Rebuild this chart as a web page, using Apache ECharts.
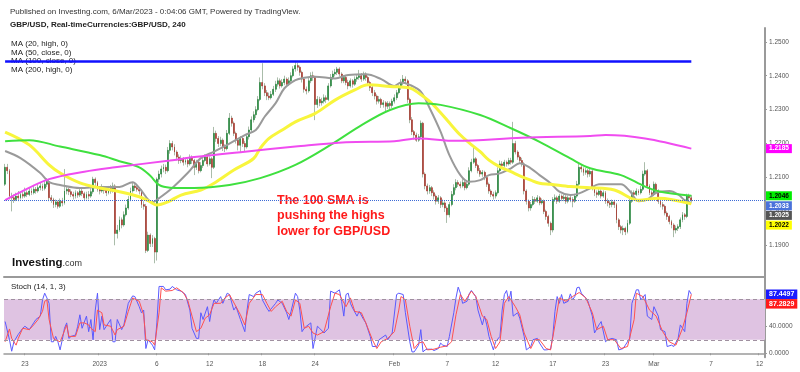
<!DOCTYPE html>
<html><head><meta charset="utf-8">
<script src="https://cdn.jsdelivr.net/npm/echarts@6/dist/echarts.min.js"></script>
<style>html,body{margin:0;padding:0;background:#fff}#c{width:800px;height:372px}</style>
</head><body><div id="c"></div>
<script>
// ---- GBP/USD 4h candles (values in pips, price = value / 10000) ----
const opens = [
12080,12130,12120,12045,12040,12035,12045,12040,12050,12045,
12055,12050,12060,12055,12065,12060,12070,12075,12068,12080,
12088,12040,12035,12020,12028,12015,12030,12025,12060,12065,
12058,12050,12045,12055,12048,12060,12052,12040,12050,12045,
12058,12095,12085,12065,12060,12070,12062,12055,12068,12060,
12075,11935,11945,11975,11960,11990,12010,12035,12060,12075,
12070,12065,12060,12020,12015,11885,11930,11905,11920,11880,
12095,12110,12125,12130,12120,12180,12200,12190,12175,12160,
12150,12155,12145,12150,12140,12160,12150,12130,12145,12120,
12135,12150,12160,12140,12155,12130,12230,12215,12200,12210,
12190,12185,12230,12275,12260,12230,12210,12195,12215,12200,
12190,12220,12240,12270,12285,12300,12330,12380,12370,12350,
12340,12335,12345,12360,12375,12385,12370,12380,12390,12375,
12385,12400,12420,12430,12425,12410,12390,12360,12355,12385,
12400,12395,12315,12330,12320,12325,12335,12330,12370,12395,
12405,12410,12420,12405,12385,12395,12380,12370,12385,12375,
12390,12395,12400,12390,12405,12395,12380,12365,12350,12340,
12325,12330,12315,12320,12310,12318,12312,12325,12335,12350,
12365,12380,12390,12385,12330,12270,12235,12225,12210,12220,
12260,12110,12075,12060,12070,12055,12045,12030,12040,12020,
12025,12010,11990,12020,12050,12070,12085,12080,12075,12085,
12070,12080,12120,12145,12155,12135,12120,12110,12115,12100,
12080,12060,12050,12045,12055,12120,12140,12135,12145,12140,
12150,12145,12200,12175,12160,12150,12140,12060,12030,12010,
12020,12035,12030,12040,12025,12030,12000,11985,11965,11945,
12035,12040,12030,12045,12038,12042,12030,12040,12035,12030,
12045,12080,12130,12125,12115,12120,12110,12118,12070,12055,
12050,12060,12045,12055,12030,12025,12020,12028,12020,11975,
11955,11945,11950,11940,11965,12030,12055,12050,12060,12055,
12065,12110,12120,12075,12055,12050,12080,12060,12030,12020,
12015,11995,11985,11970,11960,11945,11950,11955,11975,11990,
11985,12045,12040];
const closes = [
12130,12120,12045,12040,12035,12045,12040,12050,12045,12055,
12050,12060,12055,12065,12060,12070,12075,12068,12080,12088,
12040,12035,12020,12028,12015,12030,12025,12060,12065,12058,
12050,12045,12055,12048,12060,12052,12040,12050,12045,12058,
12095,12085,12065,12060,12070,12062,12055,12068,12060,12075,
11935,11945,11975,11960,11990,12010,12035,12060,12075,12070,
12065,12060,12020,12015,11885,11930,11905,11920,11880,12095,
12110,12125,12130,12120,12180,12200,12190,12175,12160,12150,
12155,12145,12150,12140,12160,12150,12130,12145,12120,12135,
12150,12160,12140,12155,12130,12230,12215,12200,12210,12190,
12185,12230,12275,12260,12230,12210,12195,12215,12200,12190,
12220,12240,12270,12285,12300,12330,12380,12370,12350,12340,
12335,12345,12360,12375,12385,12370,12380,12390,12375,12385,
12400,12420,12430,12425,12410,12390,12360,12355,12385,12400,
12395,12315,12330,12320,12325,12335,12330,12370,12395,12405,
12410,12420,12405,12385,12395,12380,12370,12385,12375,12390,
12395,12400,12390,12405,12395,12380,12365,12350,12340,12325,
12330,12315,12320,12310,12318,12312,12325,12335,12350,12365,
12380,12390,12385,12330,12270,12235,12225,12210,12220,12260,
12110,12075,12060,12070,12055,12045,12030,12040,12020,12025,
12010,11990,12020,12050,12070,12085,12080,12075,12085,12070,
12080,12120,12145,12155,12135,12120,12110,12115,12100,12080,
12060,12050,12045,12055,12120,12140,12135,12145,12140,12150,
12145,12200,12175,12160,12150,12140,12060,12030,12010,12020,
12035,12030,12040,12025,12030,12000,11985,11965,11945,12035,
12040,12030,12045,12038,12042,12030,12040,12035,12030,12045,
12080,12130,12125,12115,12120,12110,12118,12070,12055,12050,
12060,12045,12055,12030,12025,12020,12028,12020,11975,11955,
11945,11950,11940,11965,12030,12055,12050,12060,12055,12065,
12110,12120,12075,12055,12050,12080,12060,12030,12020,12015,
11995,11985,11970,11960,11945,11950,11955,11975,11990,11985,
12045,12040,12033];
const highs = [
12140,12140,12125,12055,12050,12055,12060,12058,12062,12070,
12062,12070,12068,12078,12072,12080,12085,12082,12090,12098,
12092,12048,12040,12035,12032,12038,12040,12125,12075,12070,
12065,12058,12062,12060,12070,12068,12058,12058,12060,12068,
12102,12100,12090,12072,12080,12075,12068,12075,12078,12085,
12080,11960,11985,11982,12000,12020,12045,12070,12085,12082,
12080,12072,12065,12030,12022,11940,11935,11930,11925,12100,
12120,12135,12140,12138,12190,12210,12208,12198,12180,12168,
12165,12160,12158,12155,12168,12165,12155,12152,12150,12145,
12160,12168,12165,12162,12160,12249,12238,12222,12220,12215,
12198,12240,12290,12282,12265,12235,12215,12222,12220,12208,
12228,12250,12280,12295,12310,12340,12395,12437,12378,12358,
12350,12355,12370,12385,12395,12392,12390,12400,12395,12395,
12410,12428,12440,12438,12430,12415,12395,12368,12395,12410,
12412,12400,12340,12338,12335,12345,12342,12378,12405,12415,
12420,12426,12425,12410,12402,12400,12388,12392,12390,12398,
12405,12417,12408,12412,12410,12400,12385,12372,12358,12345,
12340,12335,12328,12325,12325,12324,12332,12345,12358,12372,
12390,12402,12398,12390,12335,12278,12240,12232,12228,12268,
12264,12115,12082,12078,12075,12062,12050,12048,12045,12035,
12030,12015,12028,12060,12080,12095,12092,12088,12095,12090,
12088,12130,12155,12189,12160,12140,12128,12122,12120,12105,
12085,12065,12058,12062,12130,12150,12148,12152,12150,12158,
12158,12264,12208,12180,12165,12158,12145,12065,12035,12028,
12045,12042,12048,12045,12038,12035,12005,11990,11970,12042,
12050,12046,12052,12050,12050,12048,12047,12046,12042,12052,
12090,12140,12138,12130,12128,12125,12125,12122,12075,12062,
12068,12065,12062,12060,12038,12032,12035,12034,12025,11980,
11960,11958,11955,11975,12040,12062,12062,12068,12065,12075,
12120,12145,12125,12080,12062,12088,12085,12065,12036,12028,
12020,12000,11990,11975,11965,11958,11962,11982,11998,11995,
12052,12052,12048];
const lows = [
12075,12110,12035,12000,12025,12030,12030,12035,12038,12040,
12042,12045,12048,12050,12052,12055,12062,12060,12062,12072,
12030,12025,12010,12012,12008,12010,12015,12020,12050,12048,
12042,12035,12038,12040,12042,12045,12032,12035,12035,12040,
12052,12075,12058,12050,12055,12052,12045,12050,12052,12055,
11900,11920,11940,11950,11955,11985,12005,12030,12055,12060,
12058,12050,12010,12005,11877,11880,11895,11895,11847,11855,
12085,12100,12115,12110,12115,12170,12180,12165,12150,12140,
12142,12135,12138,12130,12135,12140,12107,12122,12112,12115,
12128,12145,12132,12135,12098,12125,12205,12190,12192,12178,
12175,12180,12225,12250,12222,12200,12180,12175,12190,12178,
12185,12212,12235,12262,12275,12295,12325,12360,12340,12328,
12328,12330,12340,12352,12368,12362,12365,12372,12368,12370,
12380,12395,12412,12415,12400,12380,12350,12345,12350,12378,
12385,12269,12305,12310,12312,12318,12320,12325,12365,12388,
12398,12402,12398,12378,12378,12372,12360,12365,12365,12370,
12382,12388,12382,12385,12385,12372,12355,12340,12330,12315,
12318,12305,12306,12290,12302,12300,12305,12318,12328,12345,
12358,12372,12375,12320,12260,12225,12212,12205,12205,12215,
12100,12065,12050,12052,12045,12035,12020,12022,12010,12012,
11998,11966,11982,12015,12045,12062,12072,12068,12070,12062,
12065,12075,12115,12140,12128,12112,12102,12102,12092,12072,
12052,12042,12035,12038,12050,12115,12128,12130,12132,12135,
12138,12140,12168,12152,12142,12132,12050,12020,12000,12002,
12015,12022,12025,12018,12020,11992,11975,11955,11930,11938,
12028,12022,12025,12030,12030,12022,12024,12027,12012,12025,
12040,12075,12115,12105,12108,12100,12102,12062,12045,12040,
12045,12038,12040,12022,12015,12010,12012,12010,11965,11945,
11935,11930,11930,11935,11960,12025,12042,12045,12048,12050,
12060,12105,12068,12048,12042,12045,12052,12022,12012,12005,
11988,11975,11962,11950,11924,11935,11942,11948,11968,11975,
11980,12030,12028];

// ---- Moving averages: [bar index, pips] ----
const ma20High = [[0,12178],[7,12157],[16,12113],[20,12086],[25,12078],[34,12069],[43,12072],[52,12072],[58,12086],[61,12069],[67,12027],[70,12039],[76,12069],[83,12113],[89,12157],[95,12176],[101,12196],[109,12225],[114,12240],[118,12279],[123,12319],[127,12363],[132,12387],[136,12394],[141,12397],[150,12392],[156,12402],[164,12404],[171,12390],[177,12370],[180,12380],[184,12373],[189,12353],[193,12305],[198,12235],[202,12166],[207,12107],[211,12087],[216,12092],[220,12107],[225,12112],[230,12127],[234,12142],[239,12127],[243,12107],[248,12083],[252,12058],[257,12048],[261,12053],[266,12068],[270,12080],[280,12080],[284,12060],[288,12030],[292,12035],[296,12055],[302,12060],[306,12050],[309,12033],[312,12025]];
const ma50Close = [[0,12234],[11,12196],[20,12137],[25,12113],[34,12084],[43,12069],[52,12058],[61,12043],[66,12028],[69,12019],[74,12028],[80,12048],[89,12063],[95,12083],[104,12122],[113,12156],[116,12186],[120,12215],[126,12240],[132,12264],[141,12289],[150,12328],[159,12358],[165,12373],[175,12368],[184,12364],[188,12349],[193,12324],[198,12291],[202,12261],[207,12225],[211,12202],[216,12176],[220,12151],[225,12131],[230,12117],[234,12105],[239,12092],[243,12083],[248,12080],[257,12073],[266,12070],[277,12063],[288,12033],[297,12039],[312,12022]];
const ma100Close = [[0,12207],[11,12210],[25,12191],[43,12166],[52,12148],[61,12130],[66,12105],[70,12078],[75,12070],[86,12069],[102,12078],[116,12098],[132,12137],[148,12196],[161,12250],[175,12299],[188,12319],[198,12314],[216,12284],[230,12245],[243,12205],[257,12156],[266,12127],[280,12107],[291,12073],[298,12058],[312,12046]];
const ma200High = [[0,12033],[7,12057],[20,12095],[36,12117],[50,12130],[75,12150],[86,12160],[109,12176],[132,12191],[155,12204],[177,12207],[188,12215],[205,12208],[235,12217],[266,12222],[273,12225],[291,12215],[312,12185]];

// ---- Stochastic (14,1,3): [bar index, value] ----
const stochK = [[0,47],[2,20],[3,3],[4,17],[6,28],[8,37],[9,40],[11,35],[13,45],[14,50],[16,55],[17,79],[18,89],[19,82],[20,74],[21,17],[22,17],[23,25],[24,17],[25,5],[26,20],[27,37],[28,45],[29,22],[30,25],[32,27],[33,40],[34,57],[35,37],[37,55],[38,32],[39,50],[40,20],[41,64],[42,89],[43,35],[44,55],[45,35],[48,50],[49,17],[50,17],[51,50],[53,35],[54,42],[56,74],[58,85],[59,84],[61,69],[62,60],[63,64],[64,7],[65,20],[67,12],[68,5],[69,45],[70,99],[72,99],[73,94],[75,95],[76,99],[78,94],[80,92],[82,87],[84,64],[85,37],[87,22],[88,22],[89,60],[90,50],[92,69],[93,47],[94,67],[95,79],[96,74],[98,84],[99,74],[101,89],[102,87],[104,64],[105,69],[107,50],[109,32],[110,64],[111,87],[113,84],[114,89],[116,93],[117,79],[119,67],[120,62],[123,74],[124,79],[126,74],[128,60],[129,50],[130,62],[132,89],[133,84],[134,64],[135,32],[136,37],[137,40],[139,45],[140,7],[142,40],[143,37],[145,30],[147,37],[148,92],[150,89],[152,94],[153,77],[154,55],[155,87],[156,89],[157,74],[158,67],[160,55],[161,62],[163,50],[164,45],[166,25],[167,10],[169,10],[170,20],[173,27],[174,20],[176,30],[178,87],[179,89],[181,87],[182,60],[184,17],[185,2],[186,2],[188,12],[189,35],[190,2],[191,5],[192,6],[194,6],[195,4],[197,7],[198,15],[199,12],[201,10],[202,25],[204,60],[205,82],[206,98],[207,89],[208,74],[210,77],[211,88],[212,93],[214,84],[215,64],[217,42],[218,55],[219,42],[220,25],[222,5],[223,17],[225,25],[226,64],[227,87],[228,93],[229,77],[230,92],[231,55],[233,60],[234,52],[236,25],[237,5],[239,10],[240,20],[242,22],[243,15],[245,5],[246,5],[248,6],[249,25],[250,62],[251,84],[252,74],[253,87],[254,74],[256,77],[257,88],[258,79],[259,84],[260,97],[261,98],[262,89],[264,82],[265,77],[267,55],[268,30],[270,42],[271,47],[273,17],[274,20],[276,22],[278,20],[279,5],[281,7],[282,12],[284,22],[285,74],[287,94],[288,94],[289,79],[291,87],[292,55],[294,50],[295,69],[297,55],[298,35],[300,32],[301,10],[303,12],[304,10],[306,22],[307,42],[309,32],[310,74],[311,93],[312,87.4497]];
const stochD = [[0,17],[2,36],[3,22],[5,12],[6,22],[8,37],[11,35],[13,42],[15,50],[17,62],[18,77],[19,79],[20,50],[22,22],[23,20],[25,17],[26,25],[28,42],[29,25],[32,25],[34,45],[36,45],[38,42],[39,37],[41,32],[42,64],[44,60],[45,42],[48,40],[50,27],[51,35],[54,40],[56,62],[58,82],[61,77],[63,57],[64,20],[67,17],[68,12],[70,60],[71,97],[73,92],[76,93],[78,97],[81,90],[83,79],[85,55],[87,32],[89,37],[91,52],[93,57],[95,74],[98,74],[100,82],[102,87],[105,69],[107,57],[109,42],[111,74],[114,87],[117,87],[119,74],[121,62],[123,69],[126,77],[128,62],[130,55],[132,79],[134,74],[136,37],[138,40],[140,30],[142,27],[145,32],[148,69],[150,89],[152,87],[155,69],[157,82],[159,62],[162,60],[164,45],[167,20],[169,7],[171,17],[174,22],[177,32],[179,64],[180,84],[182,79],[184,40],[186,7],[188,15],[190,17],[192,5],[195,6],[198,9],[201,11],[203,17],[205,57],[207,87],[209,77],[212,92],[214,84],[217,55],[219,50],[221,25],[223,7],[225,17],[227,74],[229,84],[232,69],[234,57],[236,30],[239,7],[241,20],[243,20],[246,7],[248,5],[250,42],[252,82],[255,77],[258,84],[261,90],[264,82],[267,60],[269,35],[272,40],[274,20],[277,20],[280,7],[283,10],[286,50],[287,89],[290,84],[293,64],[296,55],[299,32],[302,17],[305,12],[308,37],[310,60],[312,87.2829]];

// ---- Axis labels / levels ----
const slotCount = 346;
const xLabelIdx = [9,43,69,93,117,141,177,201,223,249,273,295,321,343];
const xLabelTxt = ['23','2023','6','12','18','24','Feb','7','12','17','23','Mar','7','12'];
const priceTicks = [1.19,1.20,1.21,1.22,1.23,1.24,1.25];
const stochTicks = [0,40,80];
const resistanceLevel = [12443];
const lastPrice = [12033];
const maTagValues = [1.2025, 1.2022, 1.2046, 1.2185]; // MA20, MA50, MA100, MA200
const stochTagValues = [87.4497, 87.2829];

// ---- build ----
const cats = [];
for (let i = 0; i < slotCount; i++) cats.push(String(i));
const labelMap = {};
xLabelIdx.forEach((k, j) => { labelMap[k] = xLabelTxt[j]; });
const P = v => v / 10000;
const wickData = opens.map((o, i) => [P(o), P(closes[i]), P(lows[i]), P(highs[i])]);
const bodyData = opens.map((o, i) => [P(o), P(closes[i]), P(Math.min(o, closes[i])), P(Math.max(o, closes[i]))]);
const toLine = arr => arr.map(p => [p[0], P(p[1])]);

const FONT = 'Liberation Sans, Arial, sans-serif';
function tag(value, bg, fg, dy, digits, size) {
  return {
    yAxis: value,
    lineStyle: { color: 'rgba(0,0,0,0)', width: 0 },
    label: {
      show: true, position: 'end', distance: 1,
      formatter: value.toFixed(digits),
      backgroundColor: bg, color: fg, fontSize: size, fontWeight: 'bold', fontFamily: FONT,
      padding: [1, 3, 1, 3], lineHeight: size + 0.5, offset: [0, dy]
    }
  };
}
function maSeries(name, data, color, width, tagItem) {
  return {
    name, type: 'line', xAxisIndex: 0, yAxisIndex: 0, data: toLine(data),
    showSymbol: false, smooth: 0.35, z: 4,
    lineStyle: { color, width }, itemStyle: { color },
    markLine: { silent: true, symbol: 'none', animation: false, precision: 6, data: [tagItem] }
  };
}

const chart = echarts.init(document.getElementById('c'), null, { renderer: 'canvas' });
const option = {
  animation: false,
  backgroundColor: '#ffffff',
  textStyle: { fontFamily: FONT },
  grid: [
    { left: 4, right: 35, top: 28, height: 249, outerBoundsMode: 'none' },
    { left: 4, right: 35, top: 277, height: 80.3, outerBoundsMode: 'none' }
  ],
  xAxis: [
    { type: 'category', gridIndex: 0, data: cats, boundaryGap: true,
      axisLabel: { show: false }, axisTick: { show: false },
      axisLine: { show: true, lineStyle: { color: '#9a9a9a', width: 2 } }, splitLine: { show: false } },
    { type: 'category', gridIndex: 1, data: cats, boundaryGap: true,
      axisLine: { show: true, lineStyle: { color: '#9a9a9a', width: 1.5 } },
      axisTick: { show: true, length: 2, interval: (i) => labelMap[i] !== undefined, lineStyle: { color: '#9a9a9a' } },
      axisLabel: { show: true, interval: (i) => labelMap[i] !== undefined,
        formatter: (v) => labelMap[Number(v)] || '', fontSize: 6.5, color: '#555', margin: 3, fontFamily: FONT },
      splitLine: { show: false } }
  ],
  yAxis: [
    { type: 'value', gridIndex: 0, position: 'right', min: 1.18065, max: 1.25407, scale: true,
      splitLine: { show: false },
      axisLine: { show: true, lineStyle: { color: '#9a9a9a', width: 2 } },
      axisTick: { show: true, length: 2, customValues: priceTicks, lineStyle: { color: '#9a9a9a' } },
      axisLabel: { show: true, customValues: priceTicks, formatter: v => v.toFixed(4),
        fontSize: 6.5, color: '#555', margin: 4, fontFamily: FONT } },
    { type: 'value', gridIndex: 1, position: 'right', min: -6, max: 113,
      splitLine: { show: false },
      axisLine: { show: true, lineStyle: { color: '#9a9a9a', width: 2 } },
      axisTick: { show: true, length: 2, customValues: stochTicks, lineStyle: { color: '#9a9a9a' } },
      axisLabel: { show: true, customValues: stochTicks, formatter: v => v.toFixed(4),
        fontSize: 6.5, color: '#555', margin: 4, fontFamily: FONT } }
  ],
  series: [
    { name: 'wicks', type: 'candlestick', xAxisIndex: 0, yAxisIndex: 0, data: wickData,
      barWidth: 0.2, z: 2,
      itemStyle: { color: '#aabcaa', color0: '#aabcaa', borderColor: '#aabcaa', borderColor0: '#aabcaa', borderWidth: 1 },
      markLine: { silent: true, symbol: 'none', animation: false, z: 6, precision: 6,
        data: [
          [ { coord: [0, P(resistanceLevel[0])], lineStyle: { color: '#1010ff', width: 2.5, type: 'solid' }, label: { show: false } },
            { coord: [opens.length - 1, P(resistanceLevel[0])] } ]
        ] } },
    { name: 'bodies', type: 'candlestick', xAxisIndex: 0, yAxisIndex: 0, data: bodyData,
      barWidth: 1.4, z: 3,
      itemStyle: { color: '#23843a', color0: '#a8352b', borderColor: '#23843a', borderColor0: '#a8352b', borderWidth: 0.6 },
      markLine: { silent: true, symbol: 'none', animation: false, z: 6, precision: 6,
        data: [ Object.assign(tag(P(lastPrice[0]), '#4a72da', '#ffffff', 5.6, 4, 6.5),
                  { lineStyle: { color: '#3d6bd6', width: 1, type: 'dotted' } }) ] } },
    maSeries('MA (20, high, 0)', ma20High, '#9a9a9a', 2, tag(maTagValues[0], '#555555', '#ffffff', 12.5, 4, 6.5)),
    maSeries('MA (50, close, 0)', ma50Close, '#f8f53c', 3, tag(maTagValues[1], '#ffff00', '#000000', 21.2, 4, 6.5)),
    maSeries('MA (100, close, 0)', ma100Close, '#3fe03f', 2, tag(maTagValues[2], '#00ee00', '#000000', 0, 4, 6.5)),
    maSeries('MA (200, high, 0)', ma200High, '#f04cf0', 2, tag(maTagValues[3], '#ff00ff', '#ffffff', 0, 4, 6.5)),
    { name: '%K', type: 'line', xAxisIndex: 1, yAxisIndex: 1, data: stochK, showSymbol: false, z: 4,
      lineStyle: { color: '#5a5aff', width: 1 }, itemStyle: { color: '#5a5aff' },
      markArea: { silent: true, itemStyle: { color: '#dfc3e2' }, data: [[{ yAxis: 20 }, { yAxis: 80 }]] },
      markLine: { silent: true, symbol: 'none', animation: false, precision: 6,
        data: [
          { yAxis: 80, lineStyle: { color: '#a090a0', type: [4, 3], width: 1.2 }, label: { show: false } },
          { yAxis: 20, lineStyle: { color: '#a090a0', type: [4, 3], width: 1.2 }, label: { show: false } },
          tag(stochTagValues[0], '#1a1aff', '#ffffff', 0, 4, 7)
        ] } },
    { name: '%D', type: 'line', xAxisIndex: 1, yAxisIndex: 1, data: stochD, showSymbol: false, z: 4,
      lineStyle: { color: '#ff5050', width: 1 }, itemStyle: { color: '#ff5050' },
      markLine: { silent: true, symbol: 'none', animation: false, precision: 6,
        data: [ tag(stochTagValues[1], '#ff1a1a', '#ffffff', 9.5, 4, 7) ] } }
  ],
  graphic: [
    { type: 'text', x: 10, y: 12, z: 0, style: { text: 'Published on Investing.com, 6/Mar/2023 - 0:04:06 GMT, Powered by TradingView.', font: '8px ' + FONT, fill: '#333', textVerticalAlign: 'middle' } },
    { type: 'text', x: 10, y: 24.5, z: 0, style: { text: 'GBP/USD, Real-timeCurrencies:GBP/USD, 240', font: 'bold 8px ' + FONT, fill: '#222', textVerticalAlign: 'middle' } },
    { type: 'text', x: 11, y: 44, z: 0, style: { text: 'MA (20, high, 0)', font: '8px ' + FONT, fill: '#222', textVerticalAlign: 'middle' } },
    { type: 'text', x: 11, y: 52.5, z: 0, style: { text: 'MA (50, close, 0)', font: '8px ' + FONT, fill: '#222', textVerticalAlign: 'middle' } },
    { type: 'text', x: 11, y: 61, z: 0, style: { text: 'MA (100, close, 0)', font: '8px ' + FONT, fill: '#222', textVerticalAlign: 'middle' } },
    { type: 'text', x: 11, y: 69.5, z: 0, style: { text: 'MA (200, high, 0)', font: '8px ' + FONT, fill: '#222', textVerticalAlign: 'middle' } },
    { type: 'text', x: 11, y: 287, z: 0, style: { text: 'Stoch (14, 1, 3)', font: '8px ' + FONT, fill: '#222', textVerticalAlign: 'middle' } },
    { type: 'text', x: 12, y: 263, z: 0, style: { text: '{a|Investing}{b|.com}', textVerticalAlign: 'middle',
        rich: { a: { font: 'bold 11.5px ' + FONT, fill: '#111', color: '#111' }, b: { font: '9px ' + FONT, fill: '#333', color: '#333', padding: [2, 0, 0, 0] } } } },
    { type: 'text', x: 277, y: 200.5, z: 0, style: { text: 'The 100 SMA is', font: 'bold 12.5px ' + FONT, fill: '#ff1a1a', textVerticalAlign: 'middle' } },
    { type: 'text', x: 277, y: 216, z: 0, style: { text: 'pushing the highs', font: 'bold 12.5px ' + FONT, fill: '#ff1a1a', textVerticalAlign: 'middle' } },
    { type: 'text', x: 277, y: 231.5, z: 0, style: { text: 'lower for GBP/USD', font: 'bold 12.5px ' + FONT, fill: '#ff1a1a', textVerticalAlign: 'middle' } }
  ]
};
chart.setOption(option);
</script>
</body></html>
